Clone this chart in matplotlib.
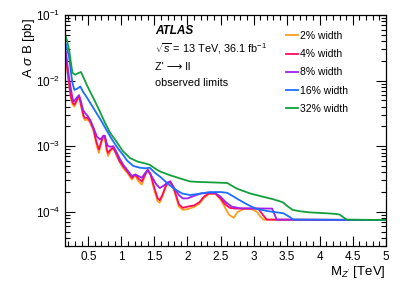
import matplotlib
matplotlib.use("Agg")
import matplotlib.pyplot as plt
from matplotlib.ticker import MultipleLocator, LogLocator, NullFormatter, FuncFormatter

plt.rcParams['font.family'] = ['Liberation Sans', 'DejaVu Sans']
plt.rcParams['mathtext.fontset'] = 'custom'
plt.rcParams['mathtext.rm'] = 'Liberation Sans'
plt.rcParams['mathtext.it'] = 'Liberation Sans:italic'
plt.rcParams['mathtext.bf'] = 'Liberation Sans:bold'

# limits, M_Z' in TeV, A*sigma*B in pb
x_w2 = [0.16, 0.17, 0.18, 0.20, 0.22, 0.24, 0.265, 0.29, 0.32, 0.35, 0.37, 0.40, 0.43, 0.45, 0.49, 0.53,
        0.58, 0.62, 0.66, 0.70, 0.73, 0.75, 0.78, 0.80, 0.84, 0.88, 0.92, 0.97, 1.03, 1.10, 1.16, 1.21,
        1.26, 1.31, 1.36, 1.40, 1.44, 1.50, 1.55, 1.58, 1.62, 1.68, 1.74, 1.80, 1.87, 1.93, 2.00, 2.10,
        2.18, 2.25, 2.32, 2.42, 2.50, 2.57, 2.63, 2.70, 2.76, 2.85, 2.97, 3.05, 3.10, 3.15, 5.0]
y_w2 = [2.5e-2, 2.0e-2, 1.55e-2, 1.05e-2, 7.1e-3, 5.2e-3, 4.3e-3, 4.0e-3, 4.6e-3, 5.4e-3, 5.1e-3, 3.7e-3, 2.7e-3, 2.5e-3, 2.55e-3, 2.25e-3,
        1.7e-3, 1.1e-3, 7.9e-4, 1.15e-3, 1.42e-3, 1.38e-3, 8.4e-4, 7.1e-4, 8.6e-4, 9.2e-4, 7.6e-4, 5.8e-4, 4.6e-4, 3.8e-4, 3.1e-4, 3.6e-4,
        2.9e-4, 2.6e-4, 3.6e-4, 4.3e-4, 3.7e-4, 2.1e-4, 1.45e-4, 1.38e-4, 1.7e-4, 2.5e-4, 2.85e-4, 2.1e-4, 1.2e-4, 1.07e-4, 1.1e-4, 1.18e-4,
        1.33e-4, 1.62e-4, 1.85e-4, 1.88e-4, 1.55e-4, 1.15e-4, 9.0e-5, 8.1e-5, 1.0e-4, 1.1e-4, 1.1e-4, 1.0e-4, 8.5e-5, 7.6e-5, 7.5e-5]

x_w4 = [0.16, 0.17, 0.18, 0.20, 0.22, 0.24, 0.265, 0.29, 0.32, 0.35, 0.37, 0.40, 0.43, 0.45, 0.49, 0.53,
        0.58, 0.62, 0.66, 0.70, 0.73, 0.75, 0.78, 0.80, 0.84, 0.88, 0.92, 0.97, 1.03, 1.10, 1.16, 1.21,
        1.26, 1.31, 1.36, 1.40, 1.44, 1.50, 1.55, 1.58, 1.62, 1.68, 1.74, 1.80, 1.87, 1.93, 2.00, 2.10,
        2.18, 2.25, 2.32, 2.42, 2.50, 2.57, 2.64, 2.72, 2.90, 3.07, 3.14, 3.20, 5.0]
y_w4 = [2.6e-2, 2.1e-2, 1.6e-2, 1.1e-2, 7.5e-3, 5.6e-3, 4.6e-3, 4.3e-3, 4.9e-3, 5.7e-3, 5.4e-3, 3.9e-3, 2.9e-3, 2.7e-3, 2.7e-3, 2.4e-3,
        1.8e-3, 1.2e-3, 8.9e-4, 1.2e-3, 1.45e-3, 1.42e-3, 9.0e-4, 7.9e-4, 9.0e-4, 9.5e-4, 7.8e-4, 6.0e-4, 4.9e-4, 4.0e-4, 3.3e-4, 3.7e-4,
        3.2e-4, 2.9e-4, 3.7e-4, 4.4e-4, 3.8e-4, 2.3e-4, 1.6e-4, 1.5e-4, 1.8e-4, 2.6e-4, 2.9e-4, 2.2e-4, 1.3e-4, 1.15e-4, 1.2e-4, 1.25e-4,
        1.4e-4, 1.7e-4, 1.9e-4, 1.92e-4, 1.6e-4, 1.3e-4, 1.15e-4, 1.12e-4, 1.12e-4, 1.12e-4, 9.0e-5, 7.6e-5, 7.5e-5]

x_w8 = [0.16, 0.17, 0.18, 0.21, 0.24, 0.26, 0.28, 0.32, 0.36, 0.39, 0.42, 0.45, 0.49, 0.53, 0.58, 0.63,
        0.68, 0.72, 0.75, 0.78, 0.80, 0.84, 0.88, 0.93, 0.98, 1.03, 1.10, 1.16, 1.21, 1.26, 1.31, 1.36,
        1.40, 1.45, 1.52, 1.58, 1.64, 1.70, 1.74, 1.80, 1.87, 1.93, 2.00, 2.10, 2.20, 2.30, 2.42, 2.50,
        2.58, 2.67, 2.80, 3.28, 3.35, 5.0]
y_w8 = [2.75e-2, 2.3e-2, 1.9e-2, 1.1e-2, 7.2e-3, 5.5e-3, 4.8e-3, 5.4e-3, 6.0e-3, 4.8e-3, 3.6e-3, 3.2e-3, 2.9e-3, 2.5e-3, 1.9e-3, 1.4e-3,
        1.26e-3, 1.4e-3, 1.45e-3, 1.1e-3, 1.0e-3, 9.8e-4, 1.0e-3, 8.0e-4, 6.3e-4, 5.2e-4, 4.2e-4, 3.5e-4, 3.7e-4, 3.5e-4, 3.3e-4, 3.9e-4,
        4.3e-4, 3.6e-4, 2.7e-4, 2.3e-4, 2.5e-4, 2.8e-4, 2.9e-4, 2.3e-4, 1.8e-4, 1.6e-4, 1.6e-4, 1.75e-4, 1.9e-4, 1.95e-4, 1.92e-4, 1.7e-4,
        1.4e-4, 1.2e-4, 1.13e-4, 1.12e-4, 7.6e-5, 7.5e-5]

x_w16 = [0.16, 0.18, 0.21, 0.24, 0.26, 0.29, 0.33, 0.38, 0.42, 0.48, 0.54, 0.60, 0.69, 0.77, 0.86, 0.95,
         1.02, 1.09, 1.18, 1.28, 1.36, 1.43, 1.50, 1.59, 1.70, 1.81, 1.92, 2.04, 2.20, 2.34, 2.50, 2.60,
         2.70, 2.79, 2.90, 3.03, 3.20, 3.35, 3.45, 3.55, 3.60, 5.0]
y_w16 = [3.6e-2, 3.0e-2, 2.3e-2, 1.3e-2, 9.3e-3, 7.2e-3, 7.5e-3, 8.1e-3, 6.8e-3, 5.5e-3, 4.4e-3, 3.5e-3, 2.5e-3, 1.8e-3, 1.26e-3, 9.2e-4,
         7.5e-4, 6.0e-4, 5.0e-4, 4.7e-4, 4.6e-4, 4.7e-4, 4.0e-4, 3.4e-4, 2.7e-4, 2.2e-4, 1.9e-4, 1.8e-4, 1.9e-4, 2.0e-4, 2.0e-4, 1.95e-4,
         1.7e-4, 1.5e-4, 1.3e-4, 1.12e-4, 1.03e-4, 9.8e-5, 9.5e-5, 8.3e-5, 7.6e-5, 7.5e-5]

x_w32 = [0.16, 0.18, 0.21, 0.24, 0.26, 0.30, 0.35, 0.39, 0.43, 0.48, 0.54, 0.59, 0.68, 0.75, 0.83, 0.92,
         1.02, 1.13, 1.25, 1.35, 1.43, 1.52, 1.59, 1.74, 1.90, 2.04, 2.17, 2.40, 2.60, 2.75, 2.95, 3.14,
         3.30, 3.44, 3.52, 3.59, 3.70, 3.85, 4.10, 4.23, 4.30, 4.36, 4.41, 5.0]
y_w32 = [4.7e-2, 4.0e-2, 2.95e-2, 1.8e-2, 1.32e-2, 1.23e-2, 1.3e-2, 1.35e-2, 1.1e-2, 8.5e-3, 6.4e-3, 5.1e-3, 3.3e-3, 2.3e-3, 1.6e-3, 1.2e-3,
         8.5e-4, 6.6e-4, 5.8e-4, 5.5e-4, 5.2e-4, 4.5e-4, 4.1e-4, 3.6e-4, 3.2e-4, 2.9e-4, 2.85e-4, 2.8e-4, 2.75e-4, 2.25e-4, 1.9e-4, 1.7e-4,
         1.55e-4, 1.4e-4, 1.2e-4, 1.07e-4, 1.02e-4, 9.8e-5, 9.5e-5, 9.3e-5, 9.1e-5, 8.2e-5, 7.6e-5, 7.5e-5]

labels = ["2% width", "4% width", "8% width", "16% width", "32% width"]
colors = ["#ff9d1e", "#ff0a5a", "#a020f0", "#1a6fff", "#13a03c"]

fig = plt.figure(figsize=(4.07, 2.93), dpi=100)
ax = fig.add_axes([0.160, 0.160, 0.788, 0.789])

series = [(x_w2, y_w2), (x_w4, y_w4), (x_w8, y_w8), (x_w16, y_w16), (x_w32, y_w32)]
for (xs, ys), lab, col in zip(series, labels, colors):
    ax.plot(xs, ys, color=col, lw=1.3, label=lab)

ax.set_yscale("log")
ax.set_xlim(0.15, 5.0)
ax.set_ylim(3e-5, 1e-1)

ax.xaxis.set_major_locator(MultipleLocator(0.5))
ax.xaxis.set_minor_locator(MultipleLocator(0.1))
ax.yaxis.set_minor_locator(LogLocator(base=10, subs=range(2, 10)))
ax.yaxis.set_minor_formatter(NullFormatter())
ax.xaxis.set_major_formatter(FuncFormatter(lambda v, p: "%g" % v))

ax.tick_params(which="both", direction="in", top=True, right=True, labelsize=8.5)
ax.tick_params(which="major", length=7, width=0.8)
ax.tick_params(which="minor", length=3.5, width=0.8)
for s in ax.spines.values():
    s.set_linewidth(0.9)

ax.set_xlabel(r"M$_{Z'}$ [TeV]", fontsize=9.5, loc="right", labelpad=1)
ax.set_ylabel(r"A $\sigma$ B [pb]", fontsize=9.5, loc="top")
ax.yaxis.set_label_coords(-0.087, 0.985)

ax.text(0.28, 0.931, "ATLAS", transform=ax.transAxes, fontsize=8.5, fontweight="bold", style="italic", va="center")
ax.text(0.28, 0.853, r"$\sqrt{s}$ = 13 TeV, 36.1 fb$^{-1}$", transform=ax.transAxes, fontsize=7.8, va="center")
ax.text(0.28, 0.775, "Z' \u27f6 ll", transform=ax.transAxes, fontsize=7.8, va="center")
ax.text(0.28, 0.706, "observed limits", transform=ax.transAxes, fontsize=7.8, va="center")

ax.legend(loc="upper left", bbox_to_anchor=(0.69, 0.93), frameon=False, fontsize=7.5,
          handlelength=1.1, handletextpad=0.25, labelspacing=0.78, borderaxespad=0,
          borderpad=0)

fig.savefig("out.png", dpi=100)
